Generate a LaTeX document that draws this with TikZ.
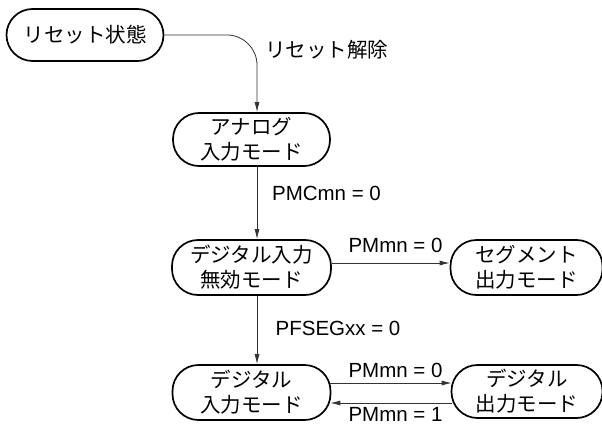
\documentclass[tikz,border=0pt]{standalone}
\usepackage{fontspec}
\setmainfont{Liberation Sans}
\newfontfamily\jp{Noto Sans CJK JP}
\usetikzlibrary{arrows.meta}
\begin{document}
\begin{tikzpicture}[x=1pt,y=-1pt,
  state/.style={draw, line width=1.7pt, rounded corners=26pt, minimum width=157pt,
    minimum height=54pt, inner sep=0pt, align=center,
    font=\jp\fontsize{20.5}{25}\selectfont},
  conn/.style={draw=black!80, line width=0.8pt, -{Latex[length=10pt,width=5pt]}},
  lbl/.style={font=\fontsize{20.5}{24}\selectfont, inner sep=0pt}]
\useasboundingbox (0,0) rectangle (602,425);
\node[state, minimum height=52pt] (reset) at (85,35) {リセット状態};
\node[state, minimum height=53pt] (analog) at (251.5,139.5) {アナログ\\入力モード};
\node[state, minimum width=159pt, minimum height=55pt] (dis) at (251.5,267.5) {デジタル入力\\無効モード};
\node[state, minimum width=152pt, minimum height=55pt] (seg) at (526.5,267.5) {セグメント\\出力モード};
\node[state, minimum width=158pt, minimum height=55pt] (din) at (251.5,392.5) {デジタル\\入力モード};
\node[state, minimum width=151pt, minimum height=53pt] (dout) at (527,391.5) {デジタル\\出力モード};
\draw[conn, rounded corners=30pt] (reset.east) -| ([xshift=5.5pt]analog.north);
\draw[conn] ([xshift=5.5pt]analog.south) -- ([xshift=5.5pt]dis.north);
\draw[conn] ([xshift=5.5pt]dis.south) -- ([xshift=5.5pt]din.north);
\draw[conn] ([yshift=4.5pt]dis.east) -- ([yshift=4.5pt]seg.west);
\draw[conn] ([yshift=9.5pt,xshift=-1pt]din.east) -- ([yshift=8.5pt,xshift=1pt]dout.west);
\draw[conn] ([yshift=-11.5pt,xshift=1pt]dout.west) -- ([yshift=-10.5pt,xshift=-1pt]din.east);
\node[lbl] (l1) at (326.5,50) {\jp リセット解除};
\node[lbl] (l2) at (326.5,193) {PMCmn = 0};
\node[lbl] (l3) at (395.5,245.5) {PMmn = 0};
\node[lbl] (l4) at (338,328) {PFSEGxx = 0};
\node[lbl] (l5) at (395.5,370.5) {PMmn = 0};
\node[lbl] (l6) at (395.5,414.5) {PMmn = 1};
\end{tikzpicture}
\end{document}
